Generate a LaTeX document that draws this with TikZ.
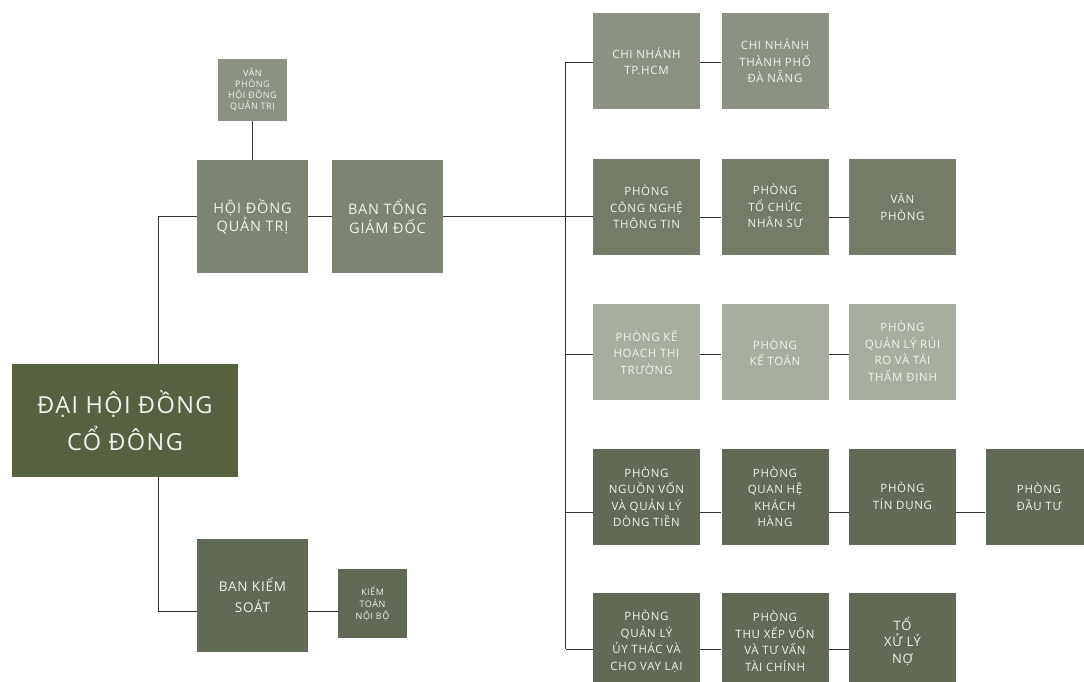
\documentclass[tikz,border=0pt]{standalone}
\usepackage{fontspec}
\setmainfont{Open Sans}[LetterSpace=6]
\usepackage{tikz}
\usetikzlibrary{calc}
\definecolor{olive}{HTML}{56623F}
\definecolor{gmid}{HTML}{7C8473}
\definecolor{glight}{HTML}{8B9284}
\definecolor{gtwo}{HTML}{737B69}
\definecolor{gpale}{HTML}{A7AD9F}
\definecolor{gdark}{HTML}{606A56}
\definecolor{txt}{HTML}{F0F2EC}
\tikzset{
  box/.style={inner sep=0pt,align=center,text=txt,font=\fontsize{11.5}{16.5}\selectfont,minimum width=107pt,minimum height=96pt},
  bigbox/.style={box,minimum width=111pt,minimum height=113pt,font=\fontsize{14.5}{18.5}\selectfont},
  tinybox/.style={box,minimum width=69pt,font=\fontsize{9}{11}\selectfont},
  link/.style={draw=black!80,line width=0.8pt}
}
\begin{document}
\begin{tikzpicture}[x=1pt,y=-1pt]
        \useasboundingbox (0,0) rectangle (1084,682);
        \node[box,fill=olive,minimum width=226pt,minimum height=113pt,font=\fontsize{23.5}{37}\selectfont](dhdcd) at (125,420.5){ĐẠI HỘI ĐỒNG\\CỔ ĐÔNG};
        \node[bigbox,fill=gmid](hdqt) at (252.5,216.5){HỘI ĐỒNG\\QUẢN TRỊ};
        \node[tinybox,fill=glight,minimum height=62pt](vphdqt) at (252.5,90){VĂN\\PHÒNG\\HỘI ĐỒNG\\QUẢN TRỊ};
        \node[bigbox,fill=gmid](btgd) at (387.5,216.5){BAN TỔNG\\GIÁM ĐỐC};
        \node[bigbox,fill=gdark,font=\fontsize{13.5}{21}\selectfont](bks) at (252.5,595.5){BAN KIỂM\\SOÁT};
        \node[tinybox,fill=gdark,minimum height=69pt,font=\fontsize{9}{12}\selectfont](ktnb) at (372.5,603.5){KIỂM\\TOÁN\\NỘI BỘ};
        \node[box,fill=glight](cnhcm) at (646.5,61){CHI NHÁNH\\TP.HCM};
        \node[box,fill=glight](cndn) at (775,61){CHI NHÁNH\\THÀNH PHỐ\\ĐÀ NẴNG};
        \node[box,fill=gtwo](cntt) at (646.5,207){PHÒNG\\CÔNG NGHỆ\\THÔNG TIN};
        \node[box,fill=gtwo](tcns) at (775,207){PHÒNG\\TỔ CHỨC\\NHÂN SỰ};
        \node[box,fill=gtwo](vanph) at (902.5,207){VĂN\\PHÒNG};
        \node[box,fill=gpale](khtt) at (646.5,352){PHÒNG KẾ\\HOẠCH THỊ\\TRƯỜNG};
        \node[box,fill=gpale](ketoan) at (775,352){PHÒNG\\KẾ TOÁN};
        \node[box,fill=gpale](qlrr) at (902.5,352){PHÒNG\\QUẢN LÝ RỦI\\RO VÀ TÁI\\THẨM ĐỊNH};
        \node[box,fill=gdark](nguonvon) at (646.5,496.5){PHÒNG\\NGUỒN VỐN\\VÀ QUẢN LÝ\\DÒNG TIỀN};
        \node[box,fill=gdark](qhkh) at (775,496.5){PHÒNG\\QUAN HỆ\\KHÁCH\\HÀNG};
        \node[box,fill=gdark](tindung) at (902.5,496.5){PHÒNG\\TÍN DỤNG};
        \node[box,fill=gdark](dautu) at (1039,496.5){PHÒNG\\ĐẦU TƯ};
        \node[box,fill=gdark](uythac) at (646.5,641){PHÒNG\\QUẢN LÝ\\ỦY THÁC VÀ\\CHO VAY LẠI};
        \node[box,fill=gdark](thuxep) at (775,641){PHÒNG\\THU XẾP VỐN\\VÀ TƯ VẤN\\TÀI CHÍNH};
        \node[box,fill=gdark,font=\fontsize{13}{16.5}\selectfont](xuly) at (902.5,641){TỔ\\XỬ LÝ\\NỢ};
        \coordinate (lt) at (158,0);
        \draw[link](vphdqt)--(hdqt);
        \draw[link](hdqt)--(btgd);
        \draw[link](hdqt.west)-|(lt|-dhdcd.north);
        \draw[link](lt|-dhdcd.south)|-([yshift=-15.5pt]bks.west);
        \draw[link]([yshift=-15.5pt]bks.east)--([yshift=-15.5pt]bks.east-|ktnb.west);
        \draw[link]([yshift=-1pt]cnhcm.west)--++(-27,0)coordinate(trtop);
        \draw[link]([yshift=-8pt]uythac.west)--++(-27,0)coordinate(trbot);
        \draw[link](trtop)--(trbot);
        \draw[link](btgd.east)--(btgd.east-|cntt.west);
        \draw[link]([yshift=-2pt]khtt.west)--++(-27,0);
        \draw[link]([yshift=-15.5pt]nguonvon.west)--++(-27,0);
        \draw[link]([yshift=-1pt]cnhcm.east)--([yshift=-1pt]cndn.west);
        \draw[link]([yshift=-10pt]cntt.east)--([yshift=-10pt]tcns.west);
        \draw[link]([yshift=-10pt]tcns.east)--([yshift=-10pt]vanph.west);
        \draw[link]([yshift=-2pt]khtt.east)--([yshift=-2pt]ketoan.west);
        \draw[link]([yshift=-2pt]ketoan.east)--([yshift=-2pt]qlrr.west);
        \draw[link]([yshift=-15.5pt]nguonvon.east)--([yshift=-15.5pt]qhkh.west);
        \draw[link]([yshift=-15.5pt]qhkh.east)--([yshift=-15.5pt]tindung.west);
        \draw[link]([yshift=-15.5pt]tindung.east)--([yshift=-15.5pt]dautu.west);
        \draw[link]([yshift=-8pt]uythac.east)--([yshift=-8pt]thuxep.west);
        \draw[link]([yshift=-8pt]thuxep.east)--([yshift=-8pt]xuly.west);
    \end{tikzpicture}
\end{document}
